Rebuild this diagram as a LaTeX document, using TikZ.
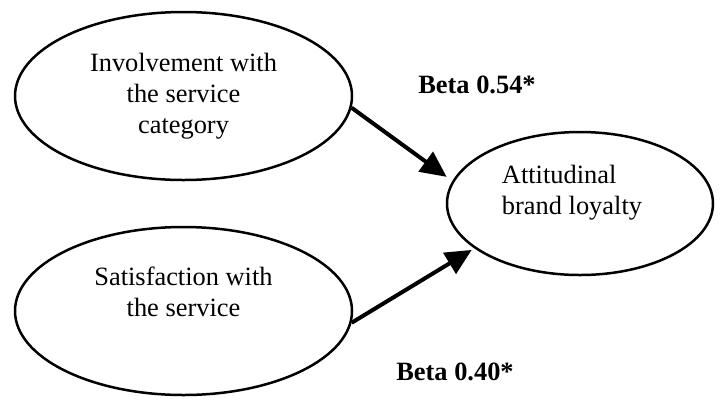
\documentclass[tikz,border=0pt]{standalone}
\usepackage{fontspec}
\setmainfont{Liberation Serif}
\usetikzlibrary{arrows.meta,shapes.geometric}

\begin{document}
\begin{tikzpicture}[x=0.5pt,y=-0.5pt,
	every node/.style={font=\fontsize{13.2}{15.5}\selectfont},
	construct/.style={draw,ellipse,line width=1.25pt,inner sep=0pt},
	effect/.style={line width=2pt,-{Triangle[length=13pt,width=12pt]}},
	beta/.style={anchor=base,font=\fontsize{13.2}{15.5}\selectfont\bfseries}]
				\useasboundingbox (0,0) rectangle (723,398);
				
				\node[construct,minimum width=168.5pt,minimum height=84pt,align=center] (inv) at (183.5,96) {Involvement with\\the service\\category};
				
				\node[construct,minimum width=168.5pt,minimum height=84pt] (sat) at (183.5,311) {};
				\node[align=center] (satlbl) at (183.5,292) {Satisfaction with\\the service};
				
				\node[construct,minimum width=133pt,minimum height=71.5pt] (att) at (580,203.5) {};
				\node[align=left] (attlbl) at (572,192.5) {Attitudinal\\brand loyalty};
				
				\draw[effect,shorten >=3.5pt] (inv.-4) -- (att.170);
				\draw[effect,shorten >=1.5pt] (sat.-4) -- (att.-157);
				
				\node[beta] (betainv) at (477,93) {Beta 0.54*};
				\node[beta] (betasat) at (455,380) {Beta 0.40*};
			\end{tikzpicture}
\end{document}
